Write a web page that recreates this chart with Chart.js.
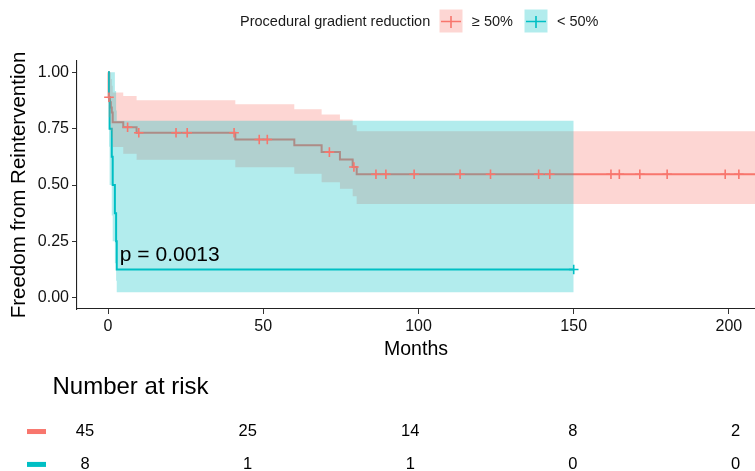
<!DOCTYPE html>
<html><head><meta charset="utf-8">
<script src="https://cdn.jsdelivr.net/npm/chart.js@4.4.1/dist/chart.umd.min.js"></script>
<style>
html,body{margin:0;padding:0;background:#fff;}
#wrap{width:755px;height:471px;position:relative;overflow:hidden;background:#fff;}
#c1{position:absolute;left:0;top:0;}
#c2{position:absolute;left:0;top:365px;}
</style></head><body>
<div id="wrap">
<canvas id="c1" width="755" height="365"></canvas>
<canvas id="c2" width="755" height="106"></canvas>
</div>
<script>
// ---------- data ----------
const legendTitle = 'Procedural gradient reduction';
const groups = ['\u2265 50%', '< 50%'];
const xTitle = 'Months';
const yTitle = 'Freedom from Reintervention';
const pText = 'p = 0.0013';
const xTicks = [0, 50, 100, 150, 200];
const yTicks = [0, 0.25, 0.5, 0.75, 1];
const yTickLabels = ['0.00', '0.25', '0.50', '0.75', '1.00'];

// group >= 50% : Kaplan-Meier steps and confidence band
const hiTime  = [0, 0.2, 0.6, 0.9, 1.2, 1.5, 4.9, 9.2, 41, 60, 68.8, 74.7, 78.8, 80.1, 208.4];
const hiSurv  = [1, 0.889, 0.867, 0.844, 0.822, 0.778, 0.756, 0.732, 0.702, 0.676, 0.646, 0.613, 0.580, 0.548, 0.548];
const hiUpper = [1, 1, 1, 0.97, 0.94, 0.91, 0.895, 0.876, 0.858, 0.836, 0.813, 0.79, 0.765, 0.738, 0.738];
const hiLower = [1, 0.80, 0.77, 0.74, 0.71, 0.668, 0.639, 0.612, 0.579, 0.55, 0.512, 0.483, 0.45, 0.416, 0.416];
const hiCensTime = [0.3, 6.3, 9.9, 21.9, 25.5, 40.6, 48.7, 51.3, 71.3, 79.2, 86.3, 89.5, 98.6, 113.4, 123.2, 138.7, 142.3, 162.0, 164.7, 171.3, 180.1, 198.8, 203.2];
const hiCensSurv = [0.889, 0.756, 0.732, 0.732, 0.732, 0.732, 0.702, 0.702, 0.646, 0.580, 0.548, 0.548, 0.548, 0.548, 0.548, 0.548, 0.548, 0.548, 0.548, 0.548, 0.548, 0.548, 0.548];

// group < 50%
const loTime  = [0, 0.3, 0.5, 1.2, 1.5, 2.2, 2.6, 2.8, 150];
const loSurv  = [1, 0.875, 0.75, 0.625, 0.5, 0.375, 0.25, 0.125, 0.125];
const loUpper = [1, 1, 1, 1, 1, 0.917, 0.83, 0.785, 0.785];
const loLower = [1, 0.67, 0.50, 0.365, 0.25, 0.153, 0.075, 0.024, 0.024];
const loCensTime = [150];
const loCensSurv = [0.125];

// number at risk
const riskTitle = 'Number at risk';
const riskTimes = [0, 50, 100, 150, 200];
const riskHi = [45, 25, 14, 8, 2];
const riskLo = [8, 1, 1, 0, 0];

// ---------- styles ----------
const RED = '#F8766D', CYAN = '#00BFC4';
const RED_A = 'rgba(248,118,109,0.3)', CYAN_A = 'rgba(0,191,196,0.3)';
const FONT = '"Liberation Sans", Arial, sans-serif';

const pts = (xs, ys) => xs.map((x, i) => ({x: x, y: ys[i]}));

const lineDs = (data, color, order) => ({
  type: 'line', data, borderColor: color, borderWidth: 2, pointRadius: 0,
  stepped: true, fill: false, order, tension: 0
});
const bandDs = (data, fillTarget, bg, order) => ({
  type: 'line', data, borderWidth: 0, borderColor: 'rgba(0,0,0,0)', pointRadius: 0,
  stepped: true, fill: fillTarget, backgroundColor: bg, order, tension: 0
});
const censDs = (data, color) => ({
  type: 'scatter', data, showLine: false, pointStyle: 'cross', pointRadius: 4.8,
  borderColor: color, borderWidth: 1.6, pointBorderWidth: 1.6, order: 1
});

const overlay = {
  id: 'overlay',
  afterDraw(chart) {
    const ctx = chart.ctx;
    const xs = chart.scales.x, ys = chart.scales.y;
    ctx.save();
    // p-value text
    ctx.fillStyle = '#000';
    ctx.font = '21px ' + FONT;
    ctx.textAlign = 'left';
    ctx.textBaseline = 'middle';
    ctx.fillText(pText, xs.getPixelForValue(3.8), ys.getPixelForValue(0.19));
    // legend
    ctx.font = '14.5px ' + FONT;
    ctx.fillStyle = '#1a1a1a';
    ctx.fillText(legendTitle, 240, 22);
    const keys = [{x: 439.5, c: RED, a: RED_A, t: groups[0], tx: 472}, {x: 524.5, c: CYAN, a: CYAN_A, t: groups[1], tx: 557}];
    keys.forEach(k => {
      ctx.fillStyle = k.a;
      ctx.fillRect(k.x, 9.5, 23, 23);
      ctx.strokeStyle = k.c;
      ctx.lineWidth = 1.6;
      ctx.beginPath();
      ctx.moveTo(k.x + 1.5, 21.5); ctx.lineTo(k.x + 21.5, 21.5);
      ctx.moveTo(k.x + 11.5, 16); ctx.lineTo(k.x + 11.5, 28);
      ctx.stroke();
      ctx.fillStyle = '#1a1a1a';
      ctx.fillText(k.t, k.tx, 22);
    });
    ctx.restore();
  }
};

new Chart(document.getElementById('c1'), {
  type: 'line',
  data: {
    datasets: [
      lineDs(pts(hiTime, hiSurv), RED, 6),
      lineDs(pts(loTime, loSurv), CYAN, 5),
      bandDs(pts(hiTime, hiUpper), 3, RED_A, 4),
      bandDs(pts(hiTime, hiLower), false, RED_A, 4),
      bandDs(pts(loTime, loUpper), 5, CYAN_A, 3),
      bandDs(pts(loTime, loLower), false, CYAN_A, 3),
      censDs(pts(hiCensTime, hiCensSurv), RED),
      censDs(pts(loCensTime, loCensSurv), CYAN)
    ]
  },
  options: {
    responsive: false, animation: false,
    layout: {autoPadding: false, padding: {top: 61, left: 0, right: 0, bottom: 0}},
    plugins: {legend: {display: false}, tooltip: {enabled: false}, title: {display: false}},
    scales: {
      x: {
        type: 'linear', min: -10, max: 208.4,
        afterBuildTicks: s => { s.ticks = xTicks.map(v => ({value: v})); },
        afterFit: s => { s.height = 56; s.paddingLeft = 0; s.paddingRight = 0; },
        grid: {display: true, drawOnChartArea: false, drawTicks: true, tickLength: 5, color: '#333', lineWidth: 1},
        border: {display: true, color: '#222', width: 1.1},
        ticks: {color: '#111', font: {family: FONT, size: 16}, padding: 3, maxRotation: 0, autoSkip: false},
        title: {display: true, text: xTitle, color: '#000', font: {family: FONT, size: 19.5}, padding: {top: 0, bottom: 4}}
      },
      y: {
        type: 'linear', min: -0.05, max: 1.05,
        afterBuildTicks: s => { s.ticks = yTicks.map(v => ({value: v})); },
        afterFit: s => { s.width = 77; s.paddingTop = 0; s.paddingBottom = 0; },
        grid: {display: true, drawOnChartArea: false, drawTicks: true, tickLength: 5, color: '#333', lineWidth: 1},
        border: {display: true, color: '#222', width: 1.1},
        ticks: {color: '#111', font: {family: FONT, size: 16}, padding: 3, autoSkip: false,
          callback: (v) => yTickLabels[yTicks.indexOf(v)]},
        title: {display: true, text: yTitle, color: '#000', font: {family: FONT, size: 20.5}, padding: {top: 7, bottom: 4}}
      }
    }
  },
  plugins: [overlay]
});

// ---------- risk table ----------
const riskText = {
  id: 'riskText',
  afterDatasetsDraw(chart) {
    const ctx = chart.ctx;
    ctx.save();
    ctx.font = '16.5px ' + FONT;
    ctx.fillStyle = '#000';
    ctx.textAlign = 'center';
    ctx.textBaseline = 'middle';
    chart.data.datasets.forEach((ds, di) => {
      const meta = chart.getDatasetMeta(di);
      meta.data.forEach((el, i) => ctx.fillText(String(ds.labels[i]), el.x, el.y));
      const yPix = chart.scales.y.getPixelForValue(ds.data[0].y);
      ctx.fillStyle = ds.keyColor;
      ctx.fillRect(27, yPix - 2.5, 19, 5);
      ctx.fillStyle = '#000';
    });
    ctx.restore();
  }
};

new Chart(document.getElementById('c2'), {
  type: 'scatter',
  data: {
    datasets: [
      {data: riskTimes.map(t => ({x: t, y: 1})), labels: riskHi, keyColor: RED, pointRadius: 0},
      {data: riskTimes.map(t => ({x: t, y: 0})), labels: riskLo, keyColor: CYAN, pointRadius: 0}
    ]
  },
  options: {
    responsive: false, animation: false,
    layout: {autoPadding: false, padding: {left: 52.5, right: 0, top: 0, bottom: 0}},
    plugins: {
      legend: {display: false}, tooltip: {enabled: false},
      title: {display: true, text: riskTitle, align: 'start', fullSize: false, color: '#000',
        font: {family: FONT, size: 24, weight: 'normal'}, padding: {top: 8, bottom: 10}}
    },
    scales: {
      x: {type: 'linear', min: -10, max: 206, display: false},
      y: {type: 'linear', min: -0.2, max: 1.6, display: false}
    }
  },
  plugins: [riskText]
});
</script>
</body></html>
